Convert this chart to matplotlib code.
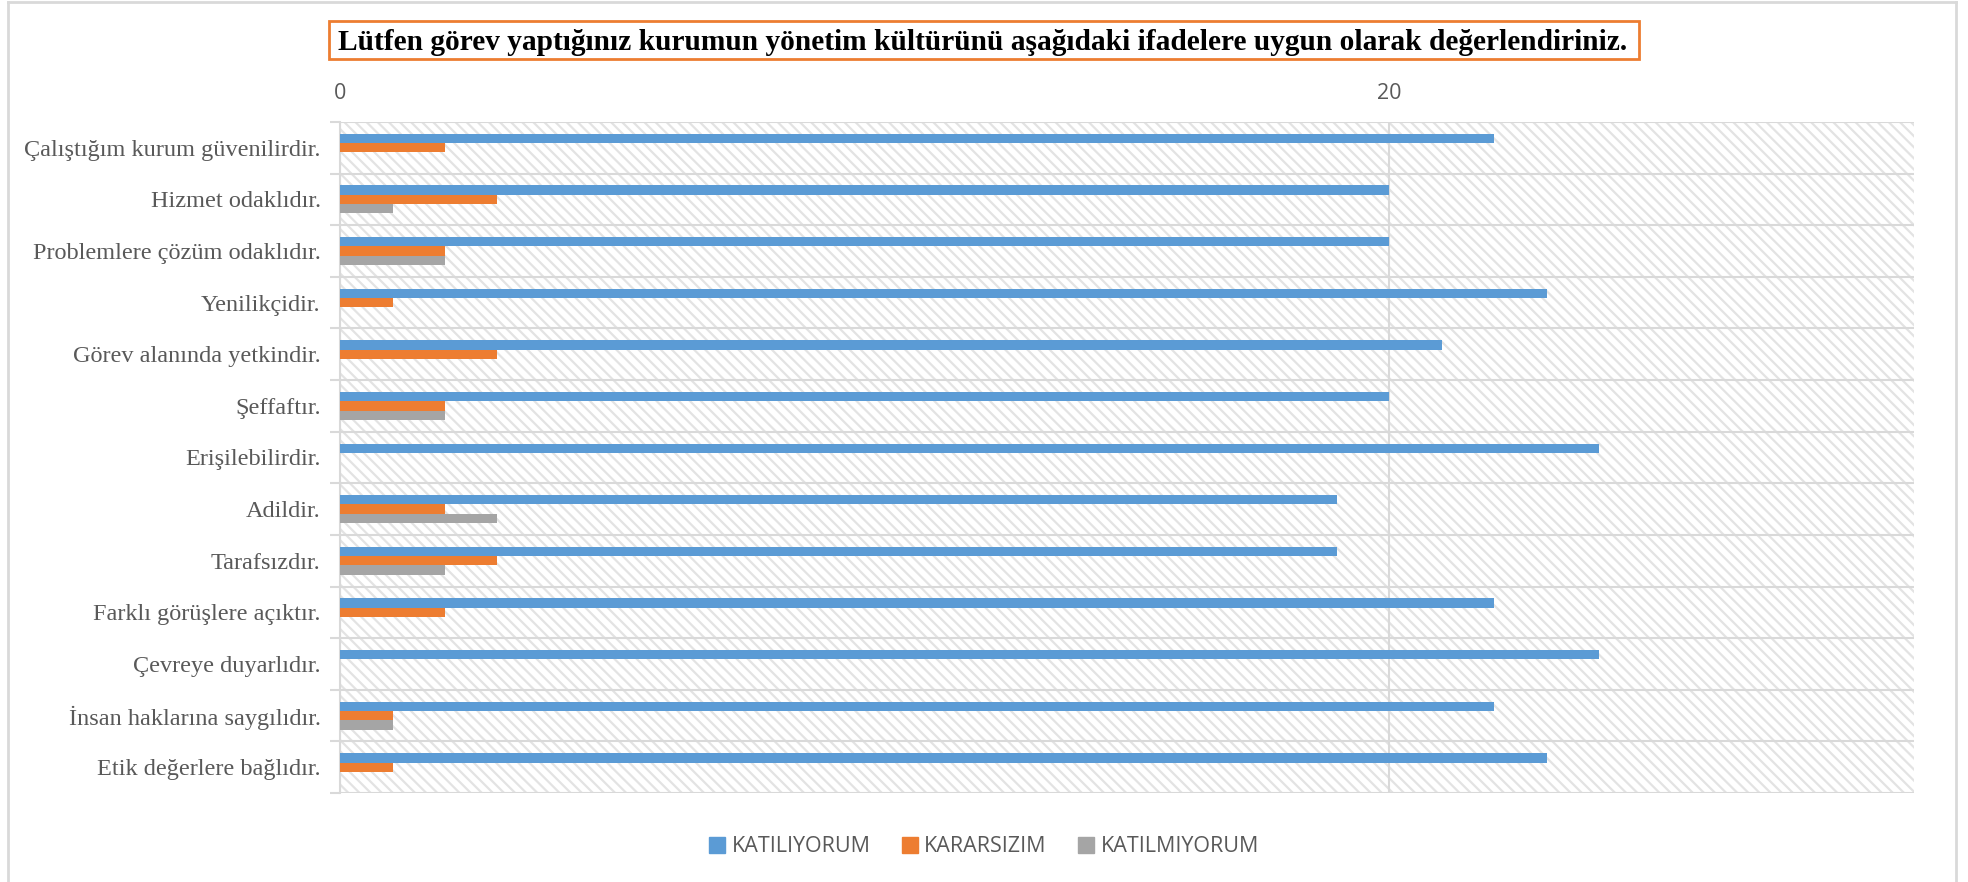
"""Grouped horizontal bar chart of survey answers on management culture."""

import matplotlib.pyplot as plt
from matplotlib.lines import Line2D
from matplotlib.patches import Rectangle


TITLE = ("Lütfen görev yaptığınız kurumun yönetim kültürünü aşağıdaki "
         "ifadelere uygun olarak değerlendiriniz.")

STATEMENTS = [
    "Çalıştığım kurum güvenilirdir.",
    "Hizmet odaklıdır.",
    "Problemlere çözüm odaklıdır.",
    "Yenilikçidir.",
    "Görev alanında yetkindir.",
    "Şeffaftır.",
    "Erişilebilirdir.",
    "Adildir.",
    "Tarafsızdır.",
    "Farklı görüşlere açıktır.",
    "Çevreye duyarlıdır.",
    "İnsan haklarına saygılıdır.",
    "Etik değerlere bağlıdır.",
]

SERIES_NAMES = ["KATILIYORUM", "KARARSIZIM", "KATILMIYORUM"]
KATILIYORUM = [22, 20, 20, 23, 21, 20, 24, 19, 19, 22, 24, 22, 23]
KARARSIZIM = [2, 3, 2, 1, 3, 2, 0, 2, 3, 2, 0, 1, 1]
KATILMIYORUM = [0, 1, 2, 0, 0, 2, 0, 3, 2, 0, 0, 1, 0]

X_TICKS = [0, 20]

COLORS = ["#5B9BD5", "#ED7D31", "#A5A5A5"]
GRID_COLOR = "#D9D9D9"
TEXT_COLOR = "#595959"


def main() -> None:
    plt.rcParams["hatch.linewidth"] = 1.6
    fig = plt.figure(figsize=(19.68, 8.82), dpi=100)
    ax = fig.add_axes([0.1728, 0.1009, 0.7998, 0.7608])

    n = len(STATEMENTS)
    rows = [n - 1 - i for i in range(n)]
    bar_h = 0.18
    offsets = [bar_h, 0.0, -bar_h]

    # hatched plot background
    ax.add_patch(Rectangle((0, 0), 1, 1, transform=ax.transAxes,
                           facecolor="white", edgecolor="#E3E3E3",
                           hatch="\\\\\\", linewidth=0, zorder=0))

    all_values = [KATILIYORUM, KARARSIZIM, KATILMIYORUM]
    for values, offset, color, name in zip(all_values, offsets, COLORS,
                                           SERIES_NAMES):
        ax.barh([r + offset for r in rows], values, height=bar_h,
                color=color, label=name, zorder=3)

    ax.set_xlim(0, 30)
    ax.set_ylim(-0.5, n - 0.5)

    ax.xaxis.tick_top()
    ax.set_xticks(X_TICKS)
    ax.tick_params(axis="x", length=0, pad=13, labelsize=15.5,
                   labelcolor=TEXT_COLOR)
    for label in ax.get_xticklabels():
        label.set_family("Open Sans")

    # category boundaries as major ticks, labels on minor ticks
    ax.set_yticks([b - 0.5 for b in range(n + 1)])
    ax.set_yticklabels([])
    ax.tick_params(axis="y", which="major", length=7, width=1.5,
                   color=GRID_COLOR)
    ax.set_yticks(rows, minor=True)
    ax.set_yticklabels(STATEMENTS, minor=True, family="Liberation Serif",
                       fontsize=17.5, color=TEXT_COLOR)
    ax.tick_params(axis="y", which="minor", length=0, pad=14)

    for b in range(n + 1):
        ax.axhline(b - 0.5, color=GRID_COLOR, linewidth=1.5, zorder=1)
    for x in X_TICKS:
        ax.axvline(x, color=GRID_COLOR, linewidth=1.5, zorder=1)

    for side in ["top", "right", "bottom"]:
        ax.spines[side].set_visible(False)
    ax.spines["left"].set_color(GRID_COLOR)
    ax.spines["left"].set_linewidth(1.5)

    # title with orange box
    fig.patches.append(Rectangle((329 / 1968, 1 - 59 / 882),
                                 1310 / 1968, 38 / 882,
                                 transform=fig.transFigure, fill=False,
                                 edgecolor="#ED7D31", linewidth=2))
    fig.text(0.4995, 1 - 42 / 882, TITLE, ha="center", va="center",
             family="Liberation Serif", weight="bold", fontsize=21.2,
             color="black")

    # outer chart border
    left, right, top = 8 / 1968, 1956 / 1968, 1 - 1.5 / 882
    for xs, ys in [([left, left], [0, top]), ([left, right], [top, top]),
                   ([right, right], [top, 0])]:
        fig.add_artist(Line2D(xs, ys, transform=fig.transFigure,
                              color=GRID_COLOR, linewidth=2))

    handles = [Rectangle((0, 0), 1, 1, color=c) for c in COLORS]
    fig.legend(handles, SERIES_NAMES, loc="center",
               bbox_to_anchor=(0.5, 1 - 847 / 882), ncol=3, frameon=False,
               handlelength=0.75, handleheight=0.75, handletextpad=0.3,
               columnspacing=1.45,
               prop={"family": "Open Sans", "size": 15.5},
               labelcolor=TEXT_COLOR)

    fig.savefig("out.png", dpi=100)


if __name__ == "__main__":
    main()
